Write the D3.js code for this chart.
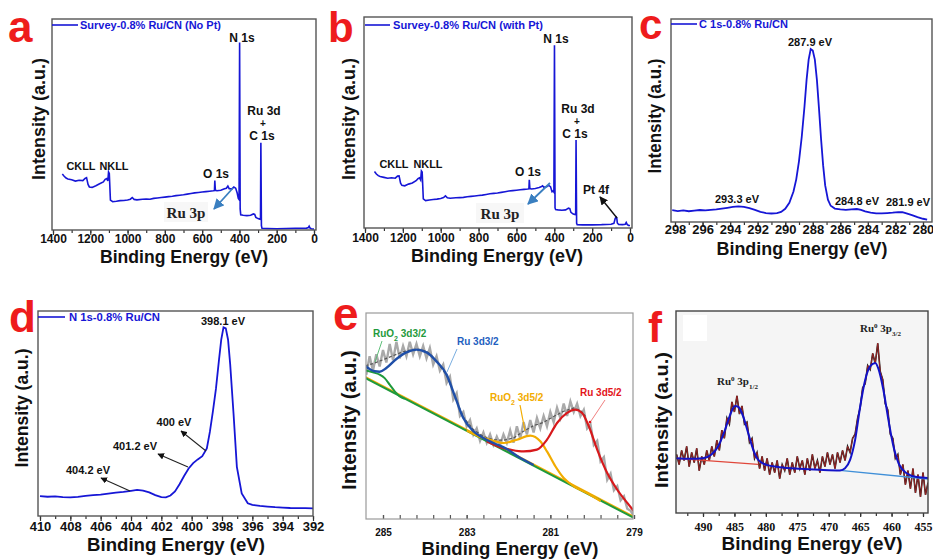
<!DOCTYPE html>
<html><head><meta charset="utf-8">
<script src="https://cdn.jsdelivr.net/npm/d3@7"></script>
<style>body{margin:0;background:#fff}svg{display:block;font-family:'Liberation Sans',Arial,sans-serif}</style>
</head><body><svg id="c" width="933" height="560"></svg>
<script>
// ---------- DATA ----------
const surveyNoPt = [[1350,26.5],[1340,25.5],[1330,24.6],[1320,24.2],[1300,23.8],[1280,23.2],[1260,23.6],[1240,23.4],[1228,24.4],[1220,24.8],[1212,21.6],[1205,20.4],[1190,20.2],[1170,21.0],[1150,21.9],[1130,22.8],[1120,24.0],[1112,24.4],[1106,23.2],[1102,27.5],[1098,26.8],[1092,14.2],[1080,13.4],[1060,13.6],[1040,13.9],[1020,14.0],[1000,14.2],[985,14.6],[975,15.4],[965,14.5],[950,14.3],[920,14.6],[900,14.7],[880,14.6],[860,15.0],[840,15.2],[820,15.4],[800,15.6],[780,15.8],[760,16.0],[740,16.3],[720,16.5],[700,16.7],[680,17.0],[660,17.3],[640,17.6],[620,17.8],[600,18.0],[580,18.2],[560,18.4],[540,18.6],[534,18.7],[532,23.4],[529,18.8],[520,18.6],[500,18.8],[480,19.5],[470,19.8],[462,20.8],[455,19.6],[440,19.5],[430,20.4],[420,19.8],[412,17.5],[406,15.0],[402,14.5],[399,88.9],[396,10.0],[393,7.2],[380,7.0],[360,6.8],[340,7.0],[325,7.6],[318,7.4],[312,6.0],[300,5.4],[290,5.1],[287,5.5],[285,41.3],[282,2.0],[279,0.8],[250,0.7],[200,0.6],[150,0.7],[100,0.8],[60,0.8],[40,0.9],[30,1.2],[26,1.8],[22,1.0],[15,0.6],[5,0.5],[0,0.5]];
const surveyWithPt = [[1350,26.8],[1340,25.6],[1330,24.8],[1320,24.4],[1300,24.0],[1280,23.6],[1260,23.8],[1240,23.6],[1228,24.6],[1220,24.7],[1212,21.2],[1205,20.2],[1190,20.0],[1170,20.8],[1150,21.3],[1130,22.4],[1120,23.4],[1112,23.8],[1106,22.8],[1102,27.0],[1098,26.5],[1092,13.8],[1080,13.0],[1060,13.3],[1040,13.5],[1020,13.7],[1000,14.0],[985,14.4],[975,15.2],[965,14.3],[950,14.1],[920,14.3],[900,14.4],[880,14.5],[860,14.8],[840,15.0],[820,15.2],[800,15.4],[780,15.6],[760,15.9],[740,16.2],[720,16.4],[700,16.6],[680,16.9],[660,17.2],[640,17.5],[620,17.7],[600,17.9],[580,18.1],[560,18.3],[540,18.5],[534,18.6],[532,22.8],[529,18.7],[520,18.5],[500,18.7],[480,19.2],[470,19.5],[462,20.0],[455,19.3],[440,19.6],[430,20.2],[420,19.6],[412,17.2],[406,17.6],[402,17.0],[399,86.6],[396,9.5],[393,8.8],[380,8.6],[360,8.4],[340,8.6],[325,9.4],[318,9.2],[312,7.4],[300,6.6],[290,6.4],[287,6.8],[285,41.7],[282,2.2],[279,1.6],[250,1.5],[200,1.5],[150,1.6],[100,1.8],[85,2.2],[78,4.6],[73,5.2],[70,4.8],[67,2.4],[60,1.7],[40,1.6],[25,1.8],[20,2.6],[15,1.7],[8,1.2],[0,1.2]];
const c1s = [[298.2,5.8],[297.8,5.4],[297.4,5.7],[297,5.3],[296.6,5.6],[296.2,5.9],[295.8,5.7],[295.4,6.0],[295,6.2],[294.6,6.6],[294.2,7.0],[293.8,7.4],[293.4,7.7],[293,7.4],[292.6,6.8],[292.2,6.0],[291.8,5.0],[291.4,4.4],[291,4.2],[290.6,4.4],[290.3,5.0],[290,6.5],[289.7,9.5],[289.4,15],[289.2,21],[289.0,30],[288.8,42],[288.6,57],[288.45,70],[288.3,80],[288.15,85.2],[288.0,84.5],[287.85,80],[287.7,70],[287.55,56],[287.4,41],[287.25,28],[287.1,18],[286.9,11],[286.7,8],[286.4,6.6],[286,6.2],[285.6,6.0],[285.2,6.2],[284.8,6.4],[284.5,6.0],[284.2,5.2],[283.8,4.6],[283.4,4.2],[283,4.2],[282.6,4.4],[282.2,4.6],[281.8,4.9],[281.5,4.8],[281.2,4.2],[280.8,3.4],[280.4,2.4],[280,1.6],[279.7,1.2]];
const n1s = [[410,9.7],[409.5,9.4],[409,9.6],[408.5,9.2],[408,9.1],[407.5,9.3],[407,9.8],[406.5,10.2],[406,10.4],[405.5,10.9],[405,11.4],[404.5,11.8],[404,12.3],[403.6,12.7],[403.2,12.4],[402.8,11.5],[402.4,10.2],[402,9.2],[401.7,9.1],[401.4,10.0],[401.1,12.0],[400.8,15.5],[400.5,19.5],[400.2,23.2],[399.9,25.8],[399.6,27.6],[399.3,29.2],[399.0,33],[398.8,41],[398.6,51],[398.4,62],[398.2,76],[398.05,86],[397.9,92],[397.75,91.5],[397.6,86],[397.46,74],[397.24,50],[397.02,24],[396.7,11],[396.3,6.2],[396,5.4],[395.5,4.9],[395,4.6],[394.5,4.3],[394,4.1],[393.5,3.9],[393,3.8],[392.5,3.8],[392,3.7]];
// Ru 3d fit (panel e)
const ru3dRaw = [[285.40,70],[285.32,79],[285.24,72],[285.16,80],[285.08,74],[285.00,82],[284.92,76],[284.84,85],[284.76,77],[284.68,86],[284.60,78],[284.52,84],[284.44,79],[284.36,86],[284.28,80],[284.20,85],[284.12,79],[284.04,84],[283.96,78],[283.88,83],[283.80,75],[283.72,79],[283.64,72],[283.56,75],[283.48,66],[283.40,69],[283.32,58],[283.24,61],[283.16,50],[283.08,52],[283.00,45],[282.92,48],[282.84,41],[282.76,44],[282.68,38],[282.60,42],[282.52,37],[282.44,41],[282.36,36],[282.28,40],[282.20,36],[282.12,41],[282.04,37],[281.96,43],[281.88,37],[281.80,45],[281.72,39],[281.64,47],[281.56,41],[281.48,48],[281.40,42],[281.32,49],[281.24,44],[281.16,50],[281.08,45],[281.00,52],[280.92,47],[280.84,54],[280.76,49],[280.68,56],[280.60,50],[280.52,57],[280.44,52],[280.36,56],[280.28,50],[280.20,53],[280.12,44],[280.04,46],[279.96,36],[279.88,38],[279.80,28],[279.72,30],[279.64,19],[279.56,22],[279.48,14],[279.40,16],[279.32,9],[279.24,11],[279.16,5],[279.08,4],[279.00,1]];
const ru3dEnvelope = [[285.42,74.4],[285.24,75.4],[285.0,77.3],[284.76,79.3],[284.52,81.2],[284.28,82.4],[284.12,82.4],[283.96,81.4],[283.8,78.6],[283.64,74.4],[283.48,69.7],[283.28,59.5],[283.08,49.5],[282.84,43.4],[282.6,40.1],[282.36,38.5],[282.12,38.2],[281.88,39.3],[281.64,42.6],[281.4,45.3],[281.16,46.9],[280.92,49.8],[280.68,52.3],[280.44,53.9],[280.28,52.8],[280.16,49.8]];
const ru3dBackground = [[285.42,68.4],[279.0,0.5]];
const ruO2_3d32 = [[285.42,72.2],[285.24,71.2],[285.08,70.1],[284.96,68.4],[284.84,65.2],[284.72,62.0],[284.6,59.5],[284.48,58.3]];
const ru_3d32 = [[285.42,74.1],[285.32,72.8],[285.2,71.7],[285.08,71.5],[284.92,73.3],[284.68,77.7],[284.44,80.9],[284.2,82.2],[283.96,80.9],[283.72,76.5],[283.48,70.1],[283.28,59.5],[283.08,49.0],[282.84,42.6],[282.6,39.3],[282.36,36.9],[282.04,34.0],[281.8,30.7],[281.4,26.2]];
const ruO2_3d52 = [[283.0,42.9],[282.7,40.0],[282.44,38.5],[282.12,36.9],[281.8,38.5],[281.48,40.5],[281.24,37.7],[281.08,32.8],[280.88,25.6],[280.68,19.9],[280.44,15.9],[280.12,12.6],[279.8,8.7]];
const ru_3d52 = [[282.52,37.7],[282.2,34.8],[281.96,33.7],[281.64,32.8],[281.32,33.7],[281.08,38.5],[280.84,46.6],[280.6,51.5],[280.4,53.1],[280.24,51.5],[280.08,45.0],[279.88,33.7],[279.64,22.3],[279.4,14.2],[279.16,7.8],[279.0,3.7]];
// Ru 3p fit (panel f)
const ru3pRaw = [[494.2,29],[493.8,24],[493.4,31],[493.0,26],[492.6,33],[492.2,23],[491.8,30],[491.4,25],[491.0,32],[490.6,21],[490.2,28],[489.8,24],[489.4,31],[489.0,26],[488.6,33],[488.2,28],[487.8,36],[487.4,31],[487.0,41],[486.6,37],[486.2,47],[485.8,44],[485.4,55],[485.0,50],[484.6,58],[484.2,49],[483.8,53],[483.4,44],[483.0,45],[482.6,35],[482.2,37],[481.8,27],[481.4,30],[481.0,22],[480.6,28],[480.2,21],[479.8,27],[479.4,19],[479.0,25],[478.6,20],[478.2,26],[477.8,17],[477.4,24],[477.0,21],[476.6,27],[476.2,19],[475.8,25],[475.4,20],[475.0,28],[474.6,22],[474.2,26],[473.8,19],[473.4,27],[473.0,21],[472.6,29],[472.2,22],[471.8,26],[471.4,20],[471.0,28],[470.6,23],[470.2,30],[469.8,24],[469.4,29],[469.0,22],[468.6,30],[468.2,25],[467.8,31],[467.4,26],[467.0,33],[466.6,30],[466.2,37],[465.8,39],[465.4,47],[465.0,52],[464.6,62],[464.2,64],[463.8,73],[463.4,71],[463.0,79],[462.6,74],[462.2,84],[461.8,70],[461.4,66],[461.0,54],[460.6,51],[460.2,39],[459.8,37],[459.4,27],[459.0,29],[458.6,19],[458.2,24],[457.8,14],[457.4,21],[457.0,12],[456.6,22],[456.2,10],[455.8,19],[455.4,8],[455.0,20],[454.6,9],[454.2,15]];
const ru3pFit = [[494.36,27.1],[492.1,26.8],[490,27.1],[488.7,28.8],[487.6,32.9],[486.5,41.1],[485.7,48.5],[484.9,53.0],[484.4,52.6],[483.6,47.7],[482.8,39.5],[482.0,31.3],[481.2,26.3],[479.9,23.8],[477.8,22.7],[474.6,21.9],[471.4,21.4],[468.2,21.1],[467.4,22.2],[466.6,26.3],[465.8,36.2],[465.0,52.6],[464.2,65.8],[463.4,72.7],[462.6,74.3],[462.1,71.5],[461.3,60.9],[460.5,46.1],[459.7,32.9],[458.9,24.7],[457.6,19.7],[456.0,17.8],[454.1,17.3]];
const ru3pBgLeft = [[494.36,27.1],[481.2,24.1]];
const ru3pBgRight = [[468.2,21.1],[454.1,16.8]];
// ticks
const ticksSurvey = [1400,1200,1000,800,600,400,200,0];
const ticksC = [298,296,294,292,290,288,286,284,282,280];
const ticksD = [410,408,406,404,402,400,398,396,394,392];
const ticksE = [285,283,281,279];
const ticksF = [490,485,480,475,470,465,460,455];

// ---------- DRAW ----------
const svg = d3.select('#c');
const defs = svg.append('defs');
function marker(id, color){
  defs.append('marker').attr('id',id).attr('viewBox','0 0 10 10').attr('refX',9).attr('refY',5)
    .attr('markerWidth',6).attr('markerHeight',6).attr('orient','auto-start-reverse')
    .append('path').attr('d','M0,0L10,5L0,10z').attr('fill',color);
}
marker('mk','#111'); marker('mb','#3a7fc0');

let clipN = 0;
function panel(o){
  const x = d3.scaleLinear().domain(o.xd).range(o.xr);
  const y = d3.scaleLinear().domain([0,100]).range([o.fb,o.ft]);
  const g = svg.append('g');
  const id = 'clip'+(clipN++);
  defs.append('clipPath').attr('id',id).append('rect').attr('x',o.fl).attr('y',o.ft).attr('width',o.fr-o.fl).attr('height',o.fb-o.ft);
  g.append('rect').attr('x',o.fl).attr('y',o.ft).attr('width',o.fr-o.fl).attr('height',o.fb-o.ft)
    .attr('fill',o.bg||'#fff');
  const minor = g.append('g').attr('transform',`translate(0,${o.fb})`)
    .call(d3.axisBottom(x).tickValues(o.minor).tickSize(o.minorSize).tickFormat(''));
  const major = g.append('g').attr('transform',`translate(0,${o.fb})`)
    .call(d3.axisBottom(x).tickValues(o.ticks).tickSize(o.majorSize).tickFormat(d=>d));
  [minor,major].forEach(a=>{a.select('.domain').remove(); a.selectAll('line').attr('stroke',o.tickColor||'#333').attr('stroke-width',1.2);});
  major.selectAll('text').attr('y',o.lblY-o.fb).attr('dy',0).attr('fill','#111')
    .style('font-size',o.lblSize+'px').style('font-weight','bold').style('font-family',o.lblFont||null);
  const plot = g.append('g').attr('clip-path',`url(#${id})`);
  g.append('rect').attr('x',o.fl).attr('y',o.ft).attr('width',o.fr-o.fl).attr('height',o.fb-o.ft)
    .attr('fill','none').attr('stroke',o.frame).attr('stroke-width',o.fw);
  const line = d3.line().x(d=>x(d[0])).y(d=>y(d[1]));
  g.append('text').attr('x',o.xt[0]).attr('y',o.xt[1]).attr('text-anchor','middle')
    .attr('textLength',o.xt[2]).attr('lengthAdjust','spacingAndGlyphs')
    .style('font-size','18px').style('font-weight','bold').attr('fill','#111').text('Binding Energy (eV)');
  g.append('text').attr('transform',`translate(${o.yt[0]},${o.yt[1]}) rotate(-90)`).attr('text-anchor','middle')
    .attr('textLength',o.yt[2]).attr('lengthAdjust','spacingAndGlyphs')
    .style('font-size',(o.ytSize||18)+'px').style('font-weight','bold').attr('fill','#111').text('Intensity (a.u.)');
  g.append('text').attr('x',o.letter[0]).attr('y',o.letter[1]).style('font-size',o.letter[2]+'px')
    .style('font-weight','bold').attr('fill','#ee1c1c').text(o.letter[3]);
  return {x,y,g,plot,line};
}
function txt(g,x,y,s,size,color,anchor,opts){
  const t = g.append('text').attr('x',x).attr('y',y).attr('text-anchor',anchor||'start')
    .style('font-size',size+'px').style('font-weight','bold').attr('fill',color||'#111').text(s);
  if(opts&&opts.font) t.style('font-family',opts.font);
  if(opts&&opts.len) t.attr('textLength',opts.len).attr('lengthAdjust','spacingAndGlyphs');
  return t;
}
function arrow(g,x1,y1,x2,y2,color,mk,w){
  g.append('line').attr('x1',x1).attr('y1',y1).attr('x2',x2).attr('y2',y2)
    .attr('stroke',color).attr('stroke-width',w||1.3).attr('marker-end',mk?`url(#${mk})`:null);
}
const BLUE = '#1616d6';
function legend(g,x1,x2,y,tx,label,len){
  g.append('line').attr('x1',x1).attr('x2',x2).attr('y1',y).attr('y2',y).attr('stroke',BLUE).attr('stroke-width',1.6);
  txt(g,tx,y+4,label,11,BLUE,'start',{len});
}
const serif = "'Liberation Serif','Times New Roman',serif";

// ---- Panel a ----
{
  const p = panel({fl:52,fr:316,ft:19,fb:230,xd:[1400,0],xr:[53,314],ticks:ticksSurvey,minor:d3.range(0,1401,100),
    majorSize:5,minorSize:3,lblY:243,lblSize:12,frame:'#555',fw:1.4,xt:[184,263,168],yt:[45,119,122],letter:[8,42,44,'a']});
  p.plot.append('path').datum(surveyNoPt).attr('d',p.line).attr('fill','none').attr('stroke',BLUE).attr('stroke-width',1.6);
  legend(p.g,52,78,25,80,'Survey-0.8% Ru/CN (No Pt)',141);
  txt(p.g,242,42,'N 1s',12,'#111','middle');
  txt(p.g,264,115,'Ru 3d',12,'#111','middle');
  txt(p.g,263,127,'+',10,'#111','middle');
  txt(p.g,262,140,'C 1s',12,'#111','middle');
  txt(p.g,81,170,'CKLL',11,'#111','middle',{len:29});
  txt(p.g,114,170,'NKLL',11,'#111','middle',{len:29});
  txt(p.g,216,178,'O 1s',12,'#111','middle');
  p.g.append('rect').attr('x',164).attr('y',202).attr('width',44).attr('height',20).attr('fill','#f7f7f7');
  txt(p.g,186,218,'Ru 3p',15,'#222','middle',{font:serif});
  arrow(p.g,233,188,214,209,'#3a7fc0','mb',1.8);
}
// ---- Panel b ----
{
  const p = panel({fl:364,fr:632,ft:17,fb:228,xd:[1400,0],xr:[365,630],ticks:ticksSurvey,minor:d3.range(0,1401,100),
    majorSize:5,minorSize:3,lblY:242,lblSize:12,frame:'#555',fw:1.4,xt:[497,262,172],yt:[355,119,122],letter:[328,42,42,'b']});
  p.plot.append('path').datum(surveyWithPt).attr('d',p.line).attr('fill','none').attr('stroke',BLUE).attr('stroke-width',1.6);
  legend(p.g,365,390,25,393,'Survey-0.8% Ru/CN (with Pt)',150);
  txt(p.g,556,43,'N 1s',12,'#111','middle');
  txt(p.g,578,113,'Ru 3d',12,'#111','middle');
  txt(p.g,577,125,'+',10,'#111','middle');
  txt(p.g,575,138,'C 1s',12,'#111','middle');
  txt(p.g,394,168,'CKLL',11,'#111','middle',{len:29});
  txt(p.g,428,168,'NKLL',11,'#111','middle',{len:29});
  txt(p.g,528,176,'O 1s',12,'#111','middle');
  txt(p.g,596,194,'Pt 4f',12,'#111','middle');
  p.g.append('rect').attr('x',476).attr('y',203).attr('width',48).attr('height',20).attr('fill','#f7f7f7');
  txt(p.g,500,219,'Ru 3p',15,'#222','middle',{font:serif});
  arrow(p.g,550,183,528,204,'#3a7fc0','mb',1.8);
  arrow(p.g,617,218,600,197,'#111','mk',1.4);
}
// ---- Panel c ----
{
  const p = panel({fl:671,fr:932,ft:19,fb:222,xd:[298,280],xr:[675,923],ticks:ticksC,minor:d3.range(280,299,1),
    majorSize:5,minorSize:3,lblY:234,lblSize:13,frame:'#555',fw:1.4,xt:[802,255,171],yt:[661,116,115],letter:[639,39,42,'c']});
  p.plot.append('path').datum(c1s).attr('d',p.line).attr('fill','none').attr('stroke',BLUE).attr('stroke-width',1.8);
  legend(p.g,671,697,24,699,'C 1s-0.8% Ru/CN',89);
  txt(p.g,810,46,'287.9 eV',11,'#111','middle');
  txt(p.g,737,203,'293.3 eV',11,'#111','middle');
  txt(p.g,857,205,'284.8 eV',11,'#111','middle');
  txt(p.g,908,206,'281.9 eV',11,'#111','middle');
}
// ---- Panel d ----
{
  const p = panel({fl:38,fr:313,ft:311,fb:516,xd:[410,392],xr:[40,313],ticks:ticksD,minor:d3.range(392,411,1),
    majorSize:5,minorSize:3,lblY:531,lblSize:13,frame:'#555',fw:1.4,xt:[176,551,178],yt:[28,408,119],letter:[9,332,44,'d']});
  p.plot.append('path').datum(n1s).attr('d',p.line).attr('fill','none').attr('stroke',BLUE).attr('stroke-width',1.8);
  legend(p.g,38,65,317,69,'N 1s-0.8% Ru/CN',91);
  txt(p.g,223,325,'398.1 eV',11,'#111','middle');
  txt(p.g,174,426,'400 eV',11,'#111','middle');
  txt(p.g,135,450,'401.2 eV',11,'#111','middle');
  txt(p.g,88,474,'404.2 eV',11,'#111','middle');
  arrow(p.g,206,451,181,431,'#222','mk',1.1);
  arrow(p.g,188,467,158,454,'#222','mk',1.1);
  arrow(p.g,130,491,101,478,'#222','mk',1.1);
}
// ---- Panel e ----
{
  const p = panel({fl:366,fr:633,ft:313,fb:519,xd:[285,279],xr:[383,634],ticks:ticksE,minor:d3.range(279,285.4,0.4),
    majorSize:-4,minorSize:-4,lblY:536,lblSize:10,frame:'#9a9a9a',fw:1.2,tickColor:'#555',xt:[510,555,177],yt:[356,420,140],ytSize:20,letter:[333,330,46,'e']});
  p.plot.append('path').datum(ru3dRaw).attr('d',p.line).attr('fill','none').attr('stroke','#a9a9a9').attr('stroke-width',2.4);
  p.plot.append('path').datum(ru3dEnvelope).attr('d',p.line).attr('fill','none').attr('stroke','#555').attr('stroke-width',1.2).attr('stroke-dasharray','3,2');
  p.plot.append('path').datum(ru3dBackground).attr('d',p.line).attr('fill','none').attr('stroke','#f2ac00').attr('stroke-width',2.2).attr('transform','translate(0,-1)');
  p.plot.append('path').datum(ru3dBackground).attr('d',p.line).attr('fill','none').attr('stroke','#1f9a3c').attr('stroke-width',2);
  p.plot.append('path').datum(ruO2_3d32).attr('d',p.line.curve(d3.curveMonotoneX)).attr('fill','none').attr('stroke','#1f9a3c').attr('stroke-width',2);
  p.plot.append('path').datum(ruO2_3d52).attr('d',p.line).attr('fill','none').attr('stroke','#f2ac00').attr('stroke-width',2.2);
  p.plot.append('path').datum(ru_3d52).attr('d',p.line).attr('fill','none').attr('stroke','#d7191c').attr('stroke-width',2.2);
  p.plot.append('path').datum(ru_3d32).attr('d',p.line).attr('fill','none').attr('stroke','#1f4fa8').attr('stroke-width',2.4);
  const sub = (t,main,s)=>{t.text(main); t.append('tspan').attr('baseline-shift','sub').style('font-size','7px').text('2'); t.append('tspan').text(s);};
  sub(txt(p.g,373,337,'',10,'#1f9a3c'),'RuO',' 3d3/2');
  arrow(p.g,382,341,375,362,'#5fbf7a',null,1);
  txt(p.g,457,345,'Ru 3d3/2',10,'#1f5fbf');
  arrow(p.g,457,349,447,372,'#7aaee0',null,1);
  sub(txt(p.g,490,401,'',10,'#f2ac00'),'RuO',' 3d5/2');
  arrow(p.g,520,405,525,431,'#f2ac00',null,1.2);
  txt(p.g,580,396,'Ru 3d5/2',10,'#e3141a');
  arrow(p.g,605,400,591,421,'#f08080',null,1);
  p.g.append('circle').attr('cx',590).attr('cy',422).attr('r',1.3).attr('fill','#e3141a');
}
// ---- Panel f ----
{
  const p = panel({fl:676,fr:928,ft:311,fb:513,xd:[490,455],xr:[703,923],ticks:ticksF,minor:d3.range(455,494,2.5),
    majorSize:4,minorSize:3,lblY:531,lblSize:12,lblFont:serif,frame:'#444',fw:1.4,bg:'#f5f5f5',xt:[812,550,181],yt:[668,420,136],letter:[648,342,42,'f']});
  p.g.insert('rect','g').attr('x',683).attr('y',315).attr('width',24).attr('height',26).attr('fill','#fff');
  p.plot.append('path').datum(ru3pRaw).attr('d',p.line).attr('fill','none').attr('stroke','#222').attr('stroke-width',1.6);
  p.plot.append('path').datum(ru3pRaw).attr('d',p.line).attr('fill','none').attr('stroke','#9b2222').attr('stroke-width',1);
  p.plot.append('path').datum(ru3pBgLeft).attr('d',p.line).attr('fill','none').attr('stroke','#e0473a').attr('stroke-width',1.3);
  p.plot.append('path').datum(ru3pBgRight).attr('d',p.line).attr('fill','none').attr('stroke','#3f8fd8').attr('stroke-width',1.3);
  p.plot.append('path').datum(ru3pFit).attr('d',p.line.curve(d3.curveMonotoneX)).attr('fill','none').attr('stroke','#1212c8').attr('stroke-width',2);
  const lab = (x,y,s)=>{const t=txt(p.g,x,y,'',11,'#222','start',{font:serif}); t.text('Ru');
    t.append('tspan').attr('baseline-shift','super').style('font-size','7px').text('0');
    t.append('tspan').text(' 3p');
    t.append('tspan').attr('baseline-shift','sub').style('font-size','7px').text(s);};
  lab(717,385,'1/2');
  lab(860,332,'3/2');
}
</script></body></html>
